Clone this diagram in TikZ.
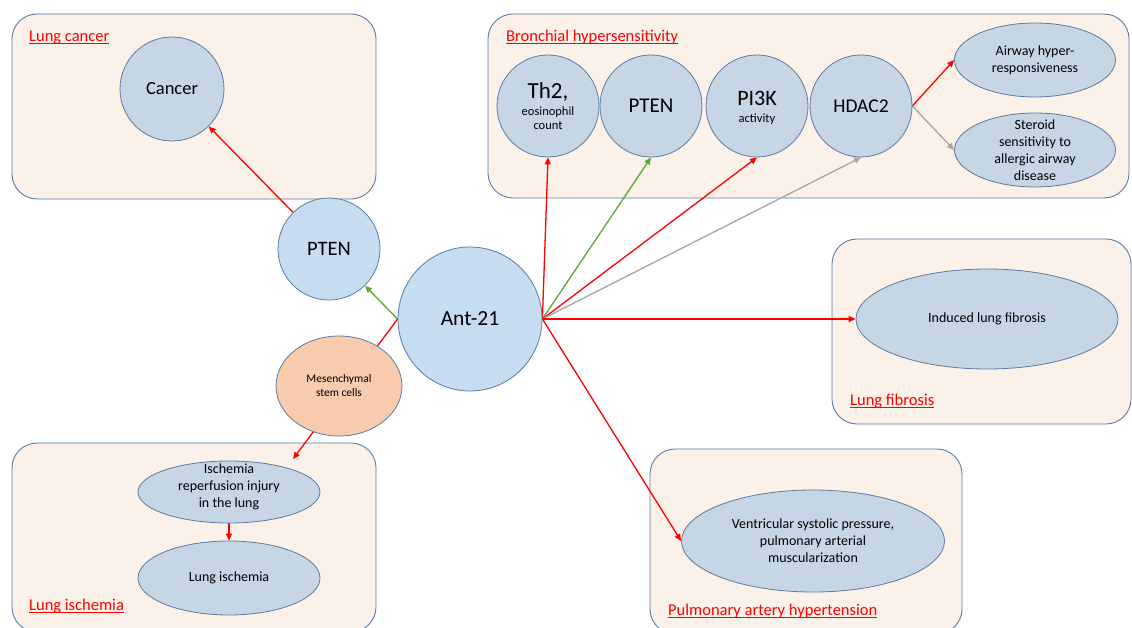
\documentclass[tikz,border=0pt]{standalone}
\usepackage{fontspec}
\setmainfont{Carlito}
\usetikzlibrary{arrows.meta,shapes.geometric}
\pgfdeclarelayer{bg}
\pgfdeclarelayer{lines}
\pgfsetlayers{bg,lines,main}
\definecolor{boxfill}{RGB}{251,241,232}
\definecolor{bord}{RGB}{88,124,166}
\definecolor{bluefill}{RGB}{199,214,229}
\definecolor{lightblue}{RGB}{198,220,240}
\definecolor{peach}{RGB}{248,203,173}
\definecolor{arrred}{RGB}{255,0,0}
\definecolor{arrgreen}{RGB}{92,168,50}
\definecolor{arrgray}{RGB}{165,165,165}
\newcommand\myul[1]{\setbox0\hbox{#1}\rlap{\rule[-2.4pt]{\wd0}{0.9pt}}\box0}
\begin{document}
\begin{tikzpicture}[x=1pt,y=-1pt,
  groupbox/.style={draw=bord, fill=boxfill, line width=0.9pt, rounded corners=25pt},
  grouptitle/.style={anchor=base west, text=arrred, font=\fontsize{16.5}{20}\selectfont, inner sep=0pt},
  bubble/.style={circle, draw=bord, fill=bluefill, line width=0.8pt, inner sep=0pt, align=center},
  oval/.style={ellipse, draw=bord, fill=bluefill, line width=0.8pt, inner sep=0pt},
  intext/.style={align=center, font=\fontsize{14}{17}\selectfont, inner sep=0pt},
  bigline/.style={anchor=base, inner sep=0pt, font=\fontsize{23}{26}\selectfont},
  smallline/.style={anchor=base, inner sep=0pt, font=\fontsize{12.5}{14}\selectfont},
  conn/.style={line width=1.3pt, -{Triangle[length=7pt,width=6pt]}},
]
\useasboundingbox (0,0) rectangle (1132,628);
\clip (0,0) rectangle (1132,628);

% group boxes
\begin{pgfonlayer}{bg}
\fill[white] (0,0) rectangle (1132,628);
\draw[groupbox] (12,14) rectangle (376,199);
\draw[groupbox] (488,14) rectangle (1129,198);
\draw[groupbox] (832,239) rectangle (1131,424);
\draw[groupbox] (650,449) rectangle (962,634);
\draw[groupbox] (12,443) rectangle (376,632);
\end{pgfonlayer}

\node[grouptitle] (tcancer) at (29,41.5) {\myul{Lung cancer}};
\node[grouptitle] (tbronch) at (506,41.5) {\myul{Bronchial hypersensitivity}};
\node[grouptitle] (tfib) at (850,405) {\myul{Lung fibrosis}};
\node[grouptitle] (tpah) at (668,615) {\myul{Pulmonary artery hypertension}};
\node[grouptitle] (tisch) at (29,610) {\myul{Lung ischemia}};

% nodes
\node[bubble, minimum size=104pt, font=\fontsize{18.5}{20}\selectfont] (cancer) at (172,89) {Cancer};
\node[bubble, fill=lightblue, minimum size=102pt, font=\fontsize{20.5}{22}\selectfont] (pten1) at (329,249) {PTEN};
\node[bubble, fill=lightblue, minimum size=144pt, font=\fontsize{21.5}{24}\selectfont] (ant) at (470,319) {Ant-21};
\node[oval, fill=peach, minimum width=126pt, minimum height=100pt,
      label={[align=center, font=\fontsize{11.5}{14}\selectfont, inner sep=0pt]center:{Mesenchymal\\stem cells}}] (mes) at (339,386) {};

\node[bubble, minimum size=102pt] (th2) at (548,106) {};
\node[bigline] (th2a) at (548,99) {Th2,};
\node[smallline] (th2b) at (548,116) {eosinophil};
\node[smallline] (th2c) at (548,130) {count};
\node[bubble, minimum size=102pt, font=\fontsize{21}{22}\selectfont] (pten2) at (651,106) {PTEN};
\node[bubble, minimum size=102pt] (pi3k) at (757,106) {};
\node[bigline, font=\fontsize{22}{24}\selectfont] (pi3ka) at (757,106) {PI3K};
\node[smallline] (pi3kb) at (757,123) {activity};
\node[bubble, minimum size=102pt, font=\fontsize{19.5}{22}\selectfont] (hdac) at (861,106) {HDAC2};

\node[oval, minimum width=161pt, minimum height=74pt,
      label={[intext]center:{Airway hyper-\\responsiveness}}] (air) at (1035,60) {};
\node[oval, minimum width=161pt, minimum height=74pt,
      label={[intext]center:{Steroid\\sensitivity to\\allergic airway\\disease}}] (ster) at (1035,150) {};

\node[oval, minimum width=262pt, minimum height=100pt,
      label={[intext]center:{Induced lung fibrosis}}] (fib) at (987,319) {};
\node[oval, minimum width=263pt, minimum height=102pt,
      label={[intext]center:{Ventricular systolic pressure,\\pulmonary arterial\\muscularization}}] (vent) at (813,541) {};

\node[oval, minimum width=182pt, minimum height=62pt,
      label={[intext, yshift=5pt]center:{Ischemia\\reperfusion injury\\in the lung}}] (isch) at (229,492) {};
\node[oval, minimum width=182pt, minimum height=74pt,
      label={[intext]center:{Lung ischemia}}] (lisch) at (229,578) {};

\coordinate (mestip) at (293,459);

% connectors
\begin{pgfonlayer}{lines}
\draw[conn, arrred] (pten1) -- (cancer);
\draw[conn, arrgreen] (ant.west) -- (pten1);
\draw[conn, arrred] (ant.west) -- (mestip);
\draw[conn, arrred] (isch.south) -- (lisch.north);
\draw[conn, arrred] (ant.east) -- (th2.south);
\draw[conn, arrgreen] (ant.east) -- (pten2.south);
\draw[conn, arrred] (ant.east) -- (pi3k.south);
\draw[conn, arrgray] (ant.east) -- (hdac.south);
\draw[conn, arrred] (ant.east) -- (fib.west);
\draw[conn, arrred] (ant.east) -- (vent.west);
\draw[conn, arrred] (hdac.east) -- (air.west);
\draw[conn, arrgray] (hdac.east) -- (ster.west);
\end{pgfonlayer}
\end{tikzpicture}
\end{document}
